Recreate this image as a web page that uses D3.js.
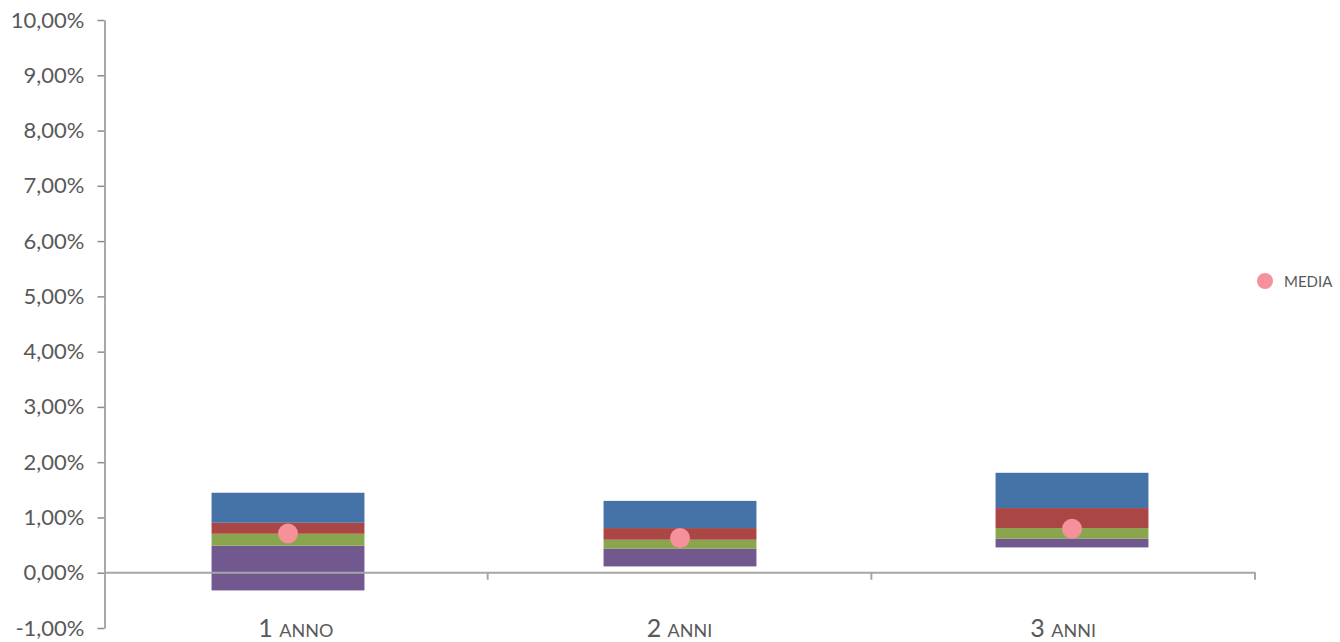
<!DOCTYPE html>
<html>
<head>
<meta charset="utf-8">
<script src="https://cdn.jsdelivr.net/npm/d3@7"></script>
<style>
  html, body { margin: 0; padding: 0; background: #fff; }
  svg { display: block; }
  text { font-family: Lato, "Open Sans", sans-serif; fill: #595959; }
</style>
</head>
<body>
<svg id="chart" width="1340" height="642"></svg>
<script>
// ---- data ----
const categories = ["1 ANNO", "2 ANNI", "3 ANNI"];
const baseValues   = [-0.32, 0.114, 0.458];   // invisible offset (lower end)
const purpleValues = [0.808, 0.320, 0.157];
const greenValues  = [0.217, 0.163, 0.193];
const redValues    = [0.199, 0.211, 0.362];
const blueValues   = [0.543, 0.492, 0.638];
const mediaValues  = [0.71, 0.627, 0.796];
const yTicks = [-1, 0, 1, 2, 3, 4, 5, 6, 7, 8, 9, 10];

const keys = ["base", "purple", "green", "red", "blue"];
const colors = { purple: "#71588F", green: "#89A54E", red: "#AA4643", blue: "#4572A7" };
const rows = categories.map((c, i) => ({
  cat: c, base: baseValues[i], purple: purpleValues[i], green: greenValues[i],
  red: redValues[i], blue: blueValues[i]
}));

const svg = d3.select("#chart");
// category axis scale
const x = d3.scaleBand().domain(categories).range([104, 1255]).paddingInner(0.6).paddingOuter(0.3);
// bar placement scale
const xb = d3.scaleBand().domain(categories).range([92, 1268]).paddingInner(0.61).paddingOuter(0.305);
const y = d3.scaleLinear().domain([-1, 10]).range([628, 20]);

const fmt = v => v.toFixed(2).replace(".", ",") + "%";

// stacked bars
const stacked = d3.stack().keys(keys).offset(d3.stackOffsetNone)(rows);
svg.append("g").selectAll("g")
  .data(stacked.filter(s => s.key !== "base"))
  .join("g")
  .attr("fill", s => colors[s.key])
  .selectAll("rect")
  .data(s => s)
  .join("rect")
  .attr("x", d => xb(d.data.cat))
  .attr("width", xb.bandwidth())
  .attr("y", d => y(Math.max(d[0], d[1])))
  .attr("height", d => Math.abs(y(d[0]) - y(d[1])));

// y axis
const yAxis = svg.append("g")
  .attr("transform", "translate(104.5,0)")
  .call(d3.axisLeft(y).tickValues(yTicks).tickFormat(fmt).tickSize(7).tickPadding(13).tickSizeOuter(0));
yAxis.select(".domain").attr("stroke", "#8c8c8c").attr("stroke-width", 1.5);
yAxis.selectAll(".tick line").attr("stroke", "#8c8c8c").attr("stroke-width", 1.5);
yAxis.selectAll(".tick text").style("font-size", "22px").attr("fill", "#595959");

// x axis at 0
const step = x.step();
const xg = svg.append("g");
xg.append("line")
  .attr("x1", 104).attr("x2", x(categories[categories.length - 1]) + x.bandwidth() + step * x.paddingInner() / 2 + 0.5)
  .attr("y1", y(0)).attr("y2", y(0))
  .attr("stroke", "#a6a6a6").attr("stroke-width", 2);
xg.selectAll("line.tk")
  .data(categories)
  .join("line")
  .attr("class", "tk")
  .attr("x1", d => x(d) + x.bandwidth() + step * x.paddingInner() / 2)
  .attr("x2", d => x(d) + x.bandwidth() + step * x.paddingInner() / 2)
  .attr("y1", y(0)).attr("y2", y(0) + 7)
  .attr("stroke", "#a6a6a6").attr("stroke-width", 2);

const lbl = xg.selectAll("text.cat")
  .data(categories)
  .join("text")
  .attr("class", "cat")
  .attr("x", d => x(d) + x.bandwidth() / 2)
  .attr("y", 637)
  .attr("text-anchor", "middle");
lbl.append("tspan").style("font-size", "25px").text(d => d.split(" ")[0] + " ");
lbl.append("tspan").style("font-size", "18px").text(d => d.split(" ").slice(1).join(" "));

// media dots
svg.append("g").selectAll("circle")
  .data(mediaValues)
  .join("circle")
  .attr("cx", (d, i) => xb(categories[i]) + xb.bandwidth() / 2)
  .attr("cy", d => y(d))
  .attr("r", 10)
  .attr("fill", "#F4919A");

// legend
const lg = svg.append("g").attr("transform", "translate(1265,281)");
lg.append("circle").attr("r", 8).attr("fill", "#F4919A");
lg.append("text").attr("x", 19).attr("y", 5.5).style("font-size", "15px").text("MEDIA");
</script>
</body>
</html>
